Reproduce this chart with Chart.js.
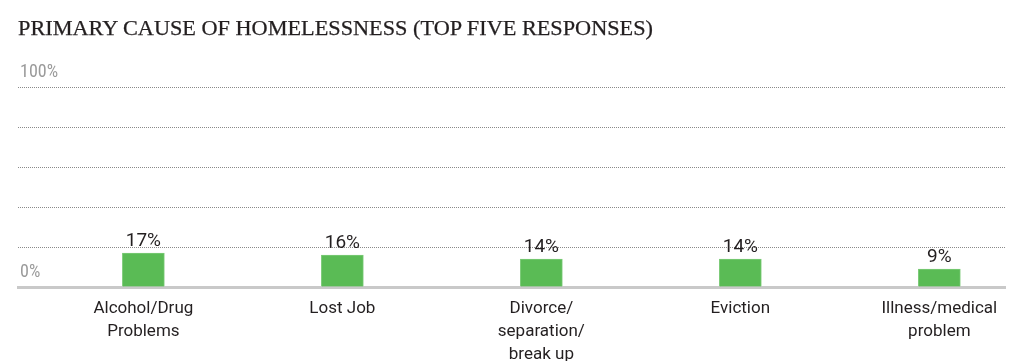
<!DOCTYPE html>
<html>
<head>
<meta charset="utf-8">
<script src="https://cdn.jsdelivr.net/npm/chart.js@4.4.0/dist/chart.umd.min.js"></script>
<style>
  html, body { margin: 0; padding: 0; background: #fff; overflow: hidden; width: 1024px; height: 361px; }
  #wrap { position: absolute; left: 0; top: 0; width: 1024px; height: 400px; }
  #title { position: absolute; left: 18px; top: 15px; font-family: 'Liberation Serif', 'DejaVu Serif', serif; font-size: 21px; line-height: 26px; color: #231f20; white-space: nowrap; transform-origin: 0 0; -webkit-text-stroke: 0.25px #231f20; }
</style>
</head>
<body>
<div id="wrap"><canvas id="c"></canvas></div>
<div id="title">PRIMARY CAUSE OF HOMELESSNESS (TOP FIVE RESPONSES)</div>
<script>
const categories = [
  ['Alcohol/Drug', 'Problems'],
  ['Lost Job'],
  ['Divorce/', 'separation/', 'break up'],
  ['Eviction'],
  ['Illness/medical', 'problem']
];
const values = [17, 16, 14, 14, 9];
const yTickLabels = { 0: '0%', 100: '100%' };

// fit title width to reference
const t = document.getElementById('title');
t.style.transform = 'scaleX(' + (635 / t.offsetWidth) + ')';

const dataLabels = {
  id: 'dataLabels',
  afterDatasetsDraw(chart) {
    const ctx = chart.ctx;
    const meta = chart.getDatasetMeta(0);
    ctx.save();
    ctx.font = "19px 'Liberation Sans Narrow', Roboto, sans-serif";
    ctx.fillStyle = '#231f20';
    ctx.textAlign = 'center';
    ctx.textBaseline = 'alphabetic';
    meta.data.forEach((el, i) => {
      ctx.fillText(values[i] + '%', el.x, el.y - 7);
    });
    ctx.restore();
  }
};

new Chart(document.getElementById('c'), {
  type: 'bar',
  data: {
    datasets: [{
      data: values.map((v, i) => ({ x: i, y: v })),
      backgroundColor: '#5abb55',
      borderColor: '#7ccb78',
      borderWidth: 1,
      barThickness: 42
    }]
  },
  options: {
    responsive: true,
    maintainAspectRatio: false,
    animation: false,
    layout: { padding: { left: 14, right: 19, top: 87, bottom: 24 } },
    plugins: { legend: { display: false }, tooltip: { enabled: false } },
    scales: {
      x: {
        type: 'linear',
        offset: false,
        bounds: 'ticks',
        min: -0.63,
        max: 4.33,
        afterBuildTicks: (s) => { s.ticks = categories.map((_, i) => ({ value: i })); },
        ticks: {
          callback: (v) => categories[v],
          autoSkip: false,
          maxRotation: 0,
          padding: 10,
          color: '#231f20',
          font: { family: 'Roboto', size: 17, lineHeight: '23px' }
        },
        grid: { display: false, drawTicks: false, offset: false },
        border: { display: true, color: '#c9c9c9', width: 3 }
      },
      y: {
        min: 0,
        max: 100,
        ticks: {
          stepSize: 20,
          mirror: true,
          padding: 2,
          labelOffset: -15,
          color: '#9a9a9a',
          font: { family: "'Liberation Sans Narrow', 'Roboto Condensed', Roboto, sans-serif", size: 18 },
          callback: (v) => yTickLabels[v] || ''
        },
        grid: {
          drawTicks: false,
          lineWidth: 1,
          color: (ctx) => ctx.tick && ctx.tick.value === 0 ? 'rgba(0,0,0,0)' : '#8a8a8a'
        },
        border: { display: false, dash: [1, 1] }
      }
    }
  },
  plugins: [dataLabels]
});
</script>
</body>
</html>
